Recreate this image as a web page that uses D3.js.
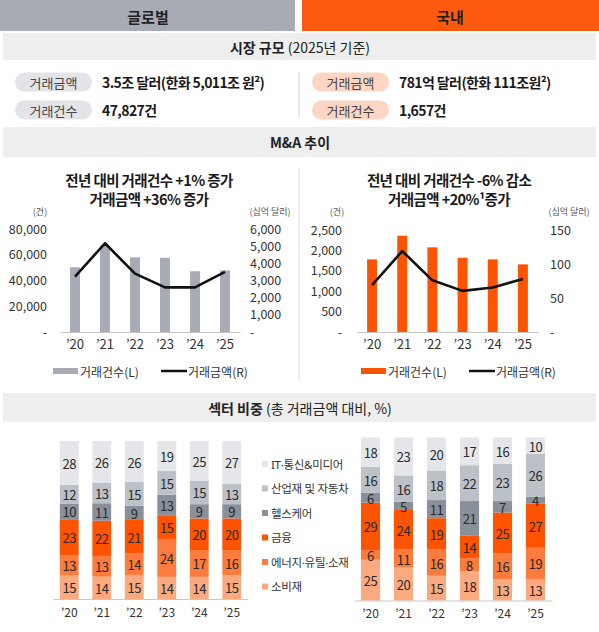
<!DOCTYPE html>
<html><head><meta charset="utf-8">
<script src="https://cdn.jsdelivr.net/npm/d3@7"></script>
<style>
body{margin:0;background:#fff;}
svg{display:block;font-family:"Noto Sans CJK KR","Noto Sans",sans-serif;}
</style></head><body>
<svg id="c" width="599" height="632"></svg>
<script>
// ---------- DATA ----------
const years = ["’20","’21","’22","’23","’24","’25"];
const globalCount = [50300, 67000, 58000, 57600, 47200, 47827];   // 건
const globalValue = [3220, 5170, 3400, 2600, 2600, 3500];        // 십억 달러
const domesticCount = [1780, 2360, 2075, 1820, 1780, 1657];     // 건
const domesticValue = [69, 119, 76, 60.5, 65.5, 78.1];          // 십억 달러
const globalCountTicks = [0, 20000, 40000, 60000, 80000];
const globalValueTicks = [0, 1000, 2000, 3000, 4000, 5000, 6000];
const domesticCountTicks = [0, 500, 1000, 1500, 2000, 2500];
const domesticValueTicks = [0, 50, 100, 150];

const sectorKeys = ["consumer","energy","finance","health","industrial","it"]; // bottom -> top
const sectorNames = {it:"IT·통신&미디어", industrial:"산업재 및 자동차", health:"헬스케어",
                     finance:"금융", energy:"에너지·유틸·소재", consumer:"소비재"};
const legendOrder = ["it","industrial","health","finance","energy","consumer"];
// global sector share (%)
const gConsumer   = [15, 14, 15, 14, 14, 15];
const gEnergy     = [13, 13, 14, 24, 17, 16];
const gFinance    = [23, 22, 21, 15, 20, 20];
const gHealth     = [10, 11,  9, 13,  9,  9];
const gIndustrial = [12, 13, 15, 15, 15, 13];
const gIT         = [28, 26, 26, 19, 25, 27];
// domestic sector share (%)
const dConsumer   = [25, 20, 15, 18, 13, 13];
const dEnergy     = [ 6, 11, 16,  8, 16, 19];
const dFinance    = [29, 24, 19, 14, 25, 27];
const dHealth     = [ 6,  5, 11, 21,  7,  4];
const dIndustrial = [16, 16, 18, 22, 23, 26];
const dIT         = [18, 23, 20, 17, 16, 10];

// ---------- STYLE ----------
const FONT = '"Noto Sans CJK KR","Noto Sans",sans-serif';
const LATIN_FIRST = '"Noto Sans","Noto Sans CJK KR",sans-serif';
const sectorColors = {it:"#e5e6e9", industrial:"#bcc0c7", health:"#8a9099",
                      finance:"#fe5300", energy:"#fb7c3c", consumer:"#fba97f"};
const fmt = v => v === 0 ? "-" : d3.format(",")(v);

const svg = d3.select("#c");
svg.append("rect").attr("width",599).attr("height",632).attr("fill","#fff");

// header
svg.append("rect").attr("x",0).attr("y",0).attr("width",295).attr("height",31).attr("fill","#a8abb3");
svg.append("rect").attr("x",302).attr("y",0).attr("width",297).attr("height",31).attr("fill","#fd5a0f");
[["글로벌",148],["국내",450]].forEach(([t,x])=>{
  svg.append("text").attr("x",x).attr("y",16).attr("text-anchor","middle")
    .attr("dominant-baseline","central").attr("font-size",15).attr("font-weight",700)
    .attr("fill","#222").text(t);
});

function band(y,h,b,n){
  svg.append("rect").attr("x",3).attr("y",y).attr("width",593).attr("height",h).attr("fill","#eeeeee");
  const t = svg.append("text").attr("x",300).attr("y",y+h/2).attr("text-anchor","middle")
    .attr("dominant-baseline","central").attr("font-size",14).attr("fill","#222");
  t.append("tspan").attr("font-weight",700).text(b);
  if(n) t.append("tspan").text(n);
}
band(33,27,"시장 규모"," (2025년 기준)");
band(127,30,"M&A 추이",null);
band(393,29,"섹터 비중"," (총 거래금액 대비, %)");

// market size pills
function pill(x,y,label,fill){
  svg.append("rect").attr("x",x).attr("y",y).attr("width",77).attr("height",19).attr("rx",9.5).attr("fill",fill);
  svg.append("text").attr("x",x+38.5).attr("y",y+9.8).attr("text-anchor","middle")
    .attr("dominant-baseline","central").attr("font-size",13).attr("fill","#444").text(label);
}
function val(x,y,t){
  svg.append("text").attr("x",x).attr("y",y).attr("dominant-baseline","central")
    .attr("font-size",14).attr("font-weight",700).attr("letter-spacing",-0.6).attr("fill","#1a1a1a").text(t);
}
pill(15,72.5,"거래금액","#e3e4e7"); pill(15,100.5,"거래건수","#e3e4e7");
pill(312,72.5,"거래금액","#fcd6c2"); pill(312,100.5,"거래건수","#fcd6c2");
val(102,82,"3.5조 달러(한화 5,011조 원²)"); val(102,109.5,"47,827건");
val(399,82,"781억 달러(한화 111조원²)"); val(399,109.5,"1,657건");
svg.append("line").attr("x1",299).attr("x2",299).attr("y1",72).attr("y2",118).attr("stroke","#d3d3d3");

// divider between M&A charts
svg.append("line").attr("x1",299).attr("x2",299).attr("y1",168).attr("y2",381).attr("stroke","#dddddd");

function styleAxis(g,size){
  g.attr("font-family",FONT).attr("font-size",size);
  g.selectAll("text").attr("fill","#333");
}

function combo(o){
  o.titles.forEach((t,i)=>{
    svg.append("text").attr("x",o.cx).attr("y",179+i*19.5).attr("text-anchor","middle")
      .attr("dominant-baseline","central").attr("font-size",14.5).attr("font-weight",700)
      .attr("letter-spacing",-0.6).attr("fill","#1a1a1a").text(t);
  });
  svg.append("text").attr("x",o.unitL).attr("y",211).attr("text-anchor","middle")
    .attr("dominant-baseline","central").attr("font-size",9).attr("fill","#555").text("(건)");
  svg.append("text").attr("x",o.unitR).attr("y",211).attr("text-anchor","middle")
    .attr("dominant-baseline","central").attr("font-size",9).attr("fill","#555").text("(십억 달러)");

  const x = d3.scaleBand().domain(years).range([o.x0,o.x1]).paddingInner(0.67).paddingOuter(0.335);
  const yL = d3.scaleLinear().domain([0,o.countMax]).range([o.yBase,o.yTop]);
  const yR = d3.scaleLinear().domain([0,o.valueMax]).range([o.yBase,o.yTop]);

  const gL = svg.append("g").attr("transform",`translate(${o.axL},0)`)
    .call(d3.axisLeft(yL).tickValues(o.countTicks).tickSize(0).tickPadding(0).tickFormat(fmt));
  gL.select(".domain").remove(); styleAxis(gL,12.5);
  const gR = svg.append("g").attr("transform",`translate(${o.axR},0)`)
    .call(d3.axisRight(yR).tickValues(o.valueTicks).tickSize(0).tickPadding(0).tickFormat(fmt));
  gR.select(".domain").remove(); styleAxis(gR,12.5);

  svg.append("g").selectAll("rect").data(o.count).join("rect")
    .attr("x",(d,i)=>x(years[i])).attr("width",x.bandwidth())
    .attr("y",d=>yL(d)).attr("height",d=>o.yBase-yL(d)).attr("fill",o.barColor);

  const gX = svg.append("g").attr("transform",`translate(0,${o.yBase})`)
    .call(d3.axisBottom(x).tickSize(0).tickPadding(8));
  gX.select(".domain").attr("stroke","#c9c9c9");
  styleAxis(gX,13);

  const line = d3.line().x((d,i)=>x(years[i])+x.bandwidth()/2).y(d=>yR(d));
  svg.append("path").datum(o.value).attr("d",line).attr("fill","none")
    .attr("stroke","#111").attr("stroke-width",2.6).attr("stroke-linejoin","round");

  svg.append("rect").attr("x",o.legX).attr("y",368).attr("width",25).attr("height",6).attr("fill",o.barColor);
  svg.append("text").attr("x",o.legX+27).attr("y",371.5).attr("dominant-baseline","central")
    .attr("font-size",12).attr("fill","#333").text("거래건수(L)");
  svg.append("line").attr("x1",o.legX+108).attr("x2",o.legX+134).attr("y1",371).attr("y2",371)
    .attr("stroke","#111").attr("stroke-width",2.5);
  svg.append("text").attr("x",o.legX+135).attr("y",371.5).attr("dominant-baseline","central")
    .attr("font-size",12).attr("fill","#333").text("거래금액(R)");
}

combo({cx:149, titles:["전년 대비 거래건수 +1% 증가","거래금액 +36% 증가"],
  unitL:40, unitR:270, x0:60, x1:240, yBase:332, yTop:229,
  count:globalCount, value:globalValue, countMax:80000, valueMax:6000,
  countTicks:globalCountTicks, valueTicks:globalValueTicks,
  axL:47, axR:250, barColor:"#a8abb4", legX:53});
combo({cx:449, titles:["전년 대비 거래건수 -6% 감소","거래금액 +20%¹증가"],
  unitL:337, unitR:569, x0:357, x1:538, yBase:332, yTop:230,
  count:domesticCount, value:domesticValue, countMax:2500, valueMax:150,
  countTicks:domesticCountTicks, valueTicks:domesticValueTicks,
  axL:342, axR:550, barColor:"#fe5300", legX:361});

// ---------- SECTOR STACKS ----------
function rowsFrom(arrs){
  return years.map((yr,i)=>{
    const r = {year:yr};
    sectorKeys.forEach((k,j)=>{ r[k] = arrs[j][i]; });
    return r;
  });
}
const globalRows = rowsFrom([gConsumer,gEnergy,gFinance,gHealth,gIndustrial,gIT]);
const domesticRows = rowsFrom([dConsumer,dEnergy,dFinance,dHealth,dIndustrial,dIT]);

function stack(rows,x0,x1,yBase,yTop,labelPad){
  const x = d3.scaleBand().domain(years).range([x0,x1]).paddingInner(0.42).paddingOuter(0.21);
  const y = d3.scaleLinear().domain([0,1]).range([yBase,yTop]);
  const series = d3.stack().keys(sectorKeys).offset(d3.stackOffsetExpand)(rows);
  const g = svg.append("g");
  series.forEach(s=>{
    g.selectAll(null).data(s).join("rect")
      .attr("x",d=>x(d.data.year)).attr("width",x.bandwidth())
      .attr("y",d=>y(d[1])).attr("height",d=>y(d[0])-y(d[1]))
      .attr("fill",sectorColors[s.key]);
    g.selectAll(null).data(s).join("text")
      .attr("x",d=>x(d.data.year)+x.bandwidth()/2).attr("y",d=>(y(d[0])+y(d[1]))/2+0.5)
      .attr("text-anchor","middle").attr("dominant-baseline","central")
      .attr("font-size",13).attr("letter-spacing",-0.4).attr("fill","#2a2a2a").text(d=>d.data[s.key]);
  });
  const gX = svg.append("g").attr("transform",`translate(0,${yBase})`)
    .call(d3.axisBottom(x).tickSize(0).tickPadding(labelPad));
  gX.select(".domain").attr("stroke","#c9c9c9");
  styleAxis(gX,12);
}
stack(globalRows,53,248,599,441,9);
stack(domesticRows,354,552,600.5,437.5,9);

// sector legend
legendOrder.forEach((k,i)=>{
  const yy = 464 + i*24.5;
  svg.append("rect").attr("x",262).attr("y",yy-3).attr("width",6).attr("height",6).attr("fill",sectorColors[k]);
  svg.append("text").attr("x",271).attr("y",yy).attr("dominant-baseline","central")
    .attr("font-family",LATIN_FIRST)
    .attr("font-size",11.5).attr("letter-spacing",-0.3).attr("fill","#333").text(sectorNames[k]);
});
</script></body></html>
